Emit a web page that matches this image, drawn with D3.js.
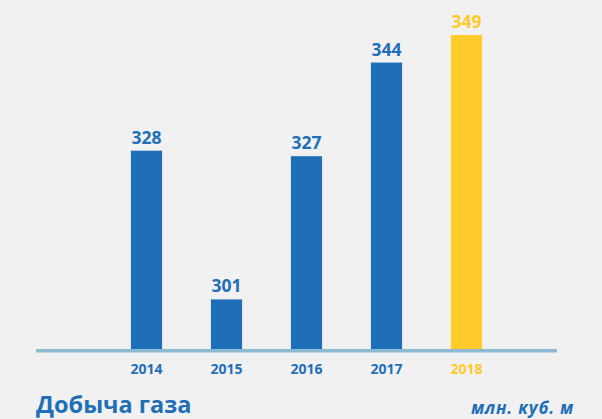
<!DOCTYPE html>
<html>
<head>
<meta charset="utf-8">
<script src="https://cdn.jsdelivr.net/npm/d3@7"></script>
<style>
  body { margin: 0; background: #f1f1f2; }
  svg { display: block; font-family: "Open Sans", sans-serif; }
</style>
</head>
<body>
<div id="chart"></div>
<script>
// data
const years = ["2014", "2015", "2016", "2017", "2018"];
const values = [328, 301, 327, 344, 349];
const highlight = ["2018"];

const width = 602, height = 419;
const blue = "#1f6fb8", yellow = "#ffca2a";

var svg = d3.select("#chart").append("svg")
    .attr("width", width)
    .attr("height", height);

svg.append("rect")
    .attr("width", width).attr("height", height)
    .attr("fill", "#f1f1f2");

// x scale - bands spaced 80px apart
var x = d3.scaleBand()
    .domain(years)
    .range([106.5, 506.5])
    .paddingInner(0.61)
    .paddingOuter(0.305);

// y scale doesn't start at zero
var y = d3.scaleLinear()
    .domain([292, 349])
    .range([349, 35]);

function colorOf(d) { return highlight.includes(d) ? yellow : blue; }

// bars
svg.selectAll(".bar")
    .data(years)
    .join("rect")
    .attr("class", "bar")
    .attr("x", d => x(d))
    .attr("width", x.bandwidth())
    .attr("y", (d, i) => y(values[i]))
    .attr("height", (d, i) => y.range()[0] - y(values[i]))
    .attr("fill", d => colorOf(d));

// baseline
svg.append("line")
    .attr("x1", 36).attr("x2", 557)
    .attr("y1", 350.8).attr("y2", 350.8)
    .attr("stroke", "#8db9d3")
    .attr("stroke-width", 3.6);

// value labels
svg.selectAll(".val")
    .data(years)
    .join("text")
    .attr("class", "val")
    .attr("x", d => x(d) + x.bandwidth() / 2)
    .attr("y", (d, i) => y(values[i]) - 7)
    .attr("text-anchor", "middle")
    .attr("font-size", "17.5px")
    .attr("font-weight", 700)
    .attr("fill", d => colorOf(d))
    .text((d, i) => values[i]);

// year labels
svg.selectAll(".year")
    .data(years)
    .join("text")
    .attr("class", "year")
    .attr("x", d => x(d) + x.bandwidth() / 2)
    .attr("y", 374)
    .attr("text-anchor", "middle")
    .attr("font-size", "14px")
    .attr("font-weight", 700)
    .attr("fill", d => colorOf(d))
    .text(d => d);

// title and units
svg.append("text")
    .attr("x", 36).attr("y", 413)
    .attr("font-size", "23.5px")
    .attr("font-weight", 700)
    .attr("fill", blue)
    .text("Добыча газа");

svg.append("text")
    .attr("x", 574).attr("y", 414)
    .attr("text-anchor", "end")
    .attr("font-size", "17px")
    .attr("font-weight", 700)
    .attr("font-style", "italic")
    .attr("letter-spacing", "0.8px")
    .attr("fill", blue)
    .text("млн. куб. м");
</script>
</body>
</html>
